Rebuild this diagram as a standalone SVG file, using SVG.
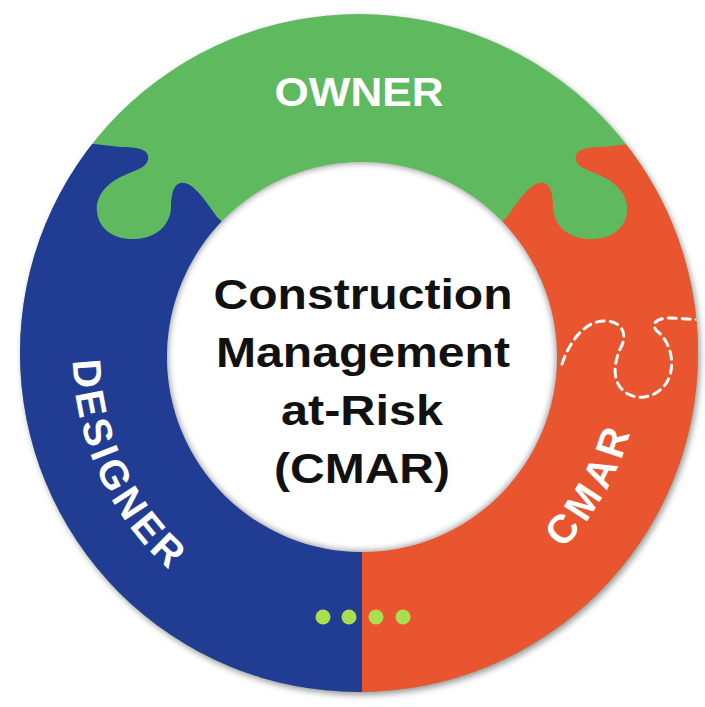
<svg xmlns="http://www.w3.org/2000/svg" width="705" height="707" viewBox="0 0 705 707">
<defs>
<style>
.seg-text{font-family:"Liberation Sans",Arial,sans-serif;font-weight:bold;fill:#ffffff;font-size:40px}
.center-text{font-family:"Liberation Sans",Arial,sans-serif;font-weight:bold;fill:#111111;font-size:43px;text-anchor:middle}
.dash{fill:none;stroke:#ffffff;stroke-width:3;stroke-dasharray:8 6;stroke-linecap:round}
.dot{fill:#a9de4e}
</style>
<clipPath id="ring"><circle cx="359" cy="353" r="339"/></clipPath>
<clipPath id="hole"><circle cx="362" cy="357" r="195"/></clipPath>
<filter id="blur3" x="-10%" y="-10%" width="120%" height="120%"><feGaussianBlur stdDeviation="3"/></filter>
<path id="arcL" d="M99.9,233.3 A288,288 0 0 0 286.5,633.2"/>
<path id="arcR" d="M412.0,630.3 A280,280 0 0 0 623.3,256.9"/>
</defs>
<rect width="705" height="707" fill="#ffffff"/>
<circle cx="361" cy="356" r="339" fill="#999999" filter="url(#blur3)"/>
<g id="owner">
<circle cx="359" cy="353" r="339" fill="#5fb95f"/>
<text class="seg-text" x="359" y="106" text-anchor="middle" textLength="169" lengthAdjust="spacingAndGlyphs">OWNER</text>
</g>
<g id="designer">
<path clip-path="url(#ring)" fill="#213c93" d="M364,356 L364,720 L-10,720 L-10,132 L60,140 L120,147 C140,147 150,150 148,160 C146,168 135,170 125,175 C105,183 95,198 97,212 C99,230 115,240 135,239 C158,238 170,224 171,208 C171,198 172,186 180,183 C190,181 200,192 217,217 Z"/>
<text class="seg-text" letter-spacing="4"><textPath href="#arcL" startOffset="50%" text-anchor="middle">DESIGNER</textPath></text>
</g>
<g id="cmar">
<path clip-path="url(#ring)" fill="#e8552f" d="M362,356 L362,720 L720,720 L720,132 L664,140 L604,147 C584,147 574,150 576,160 C578,168 589,170 599,175 C619,183 629,198 627,212 C625,230 609,240 589,239 C566,238 554,224 553,208 C553,198 552,186 544,183 C534,181 524,192 507,217 Z"/>
<path class="dash" clip-path="url(#ring)" d="M562,364 C570,340 585,322 603,321 C618,320 628,330 622,345 C612,365 612,385 628,394 C645,403 665,392 670,375 C675,358 668,340 658,332 C650,325 655,318 670,318 L705,320"/>
<text class="seg-text" letter-spacing="5"><textPath href="#arcR" startOffset="50%" text-anchor="middle">CMAR</textPath></text>
</g>
<g id="dots">
<circle class="dot" cx="323" cy="617" r="7.5"/>
<circle class="dot" cx="349" cy="617" r="7.5"/>
<circle class="dot" cx="376" cy="617" r="7.5"/>
<circle class="dot" cx="403" cy="617" r="7.5"/>
</g>
<g id="center">
<circle cx="362" cy="357" r="195" fill="#ffffff"/>
<circle cx="362" cy="357" r="198" fill="none" stroke="#444444" stroke-width="8" opacity="0.55" filter="url(#blur3)" clip-path="url(#hole)"/>
<text class="center-text" x="363" y="309" textLength="299" lengthAdjust="spacingAndGlyphs">Construction</text>
<text class="center-text" x="363" y="367" textLength="294" lengthAdjust="spacingAndGlyphs">Management</text>
<text class="center-text" x="362" y="425" textLength="162" lengthAdjust="spacingAndGlyphs">at-Risk</text>
<text class="center-text" x="362" y="483" textLength="176" lengthAdjust="spacingAndGlyphs">(CMAR)</text>
</g>
</svg>
